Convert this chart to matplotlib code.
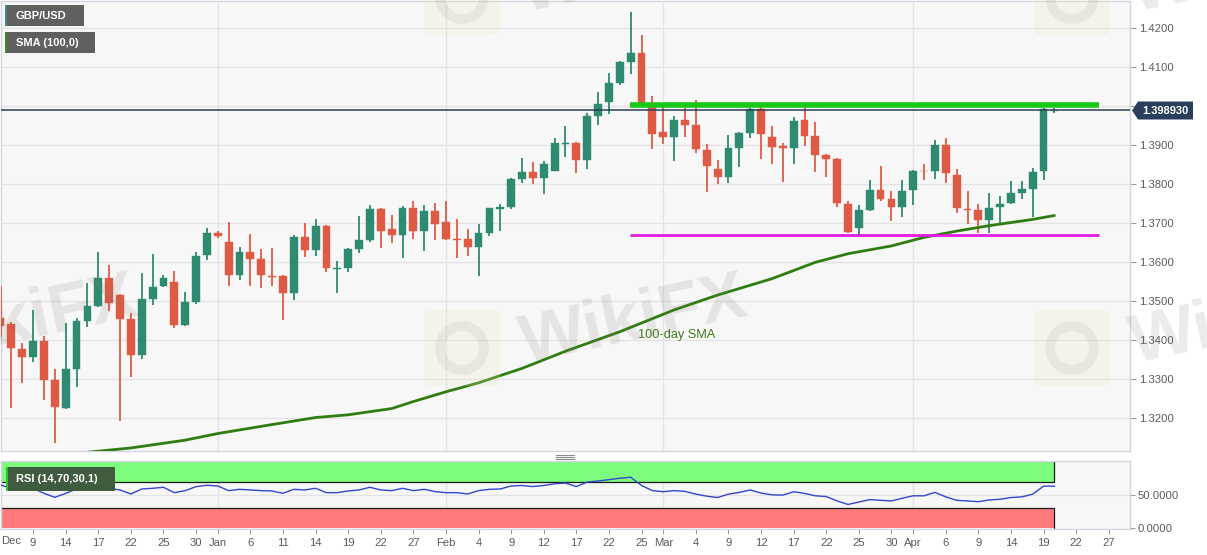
import numpy as np
import pandas as pd
import matplotlib
matplotlib.use('Agg')
import matplotlib.pyplot as plt
from matplotlib.patches import Rectangle, FancyBboxPatch, Polygon, Circle

plt.rcParams['font.family'] = ['Liberation Sans', 'DejaVu Sans']

# ---------------- data ----------------
start_date = '2020-12-04'
dates = pd.bdate_range(start_date, '2021-04-20')

opens = [1.3456, 1.3442, 1.3378, 1.3358, 1.3397, 1.3298, 1.3226, 1.3327, 1.3450, 1.3488,
         1.3561, 1.3516, 1.3454, 1.3362, 1.3506, 1.3538, 1.3549, 1.3439, 1.3497, 1.3619,
         1.3676, 1.3652, 1.3568, 1.3626, 1.3609, 1.3565, 1.3565, 1.3521, 1.3666, 1.3632,
         1.3693, 1.3583, 1.3585, 1.3634, 1.3657, 1.3737, 1.3685, 1.3670, 1.3738, 1.3681,
         1.3732, 1.3704, 1.3660, 1.3659, 1.3638, 1.3676, 1.3736, 1.3741, 1.3814, 1.3832,
         1.3815, 1.3834, 1.3904, 1.3907, 1.3862, 1.3975, 1.4012, 1.4061, 1.4113, 1.4136,
         1.4001, 1.3934, 1.3922, 1.3965, 1.3951, 1.3888, 1.3839, 1.3818, 1.3892, 1.3931,
         1.3992, 1.3922, 1.3899, 1.3892, 1.3966, 1.3923, 1.3875, 1.3864, 1.3750, 1.3688,
         1.3735, 1.3786, 1.3763, 1.3742, 1.3785, 1.3835, 1.3834, 1.3900, 1.3823, 1.3737,
         1.3733, 1.3709, 1.3742, 1.3752, 1.3778, 1.3789, 1.3834, 1.3988]
highs = [1.3538, 1.3447, 1.3392, 1.3478, 1.3411, 1.3326, 1.3445, 1.3456, 1.3548, 1.3627,
         1.3593, 1.3520, 1.3469, 1.3572, 1.3621, 1.3568, 1.3578, 1.3524, 1.3627, 1.3687,
         1.3679, 1.3704, 1.3640, 1.3673, 1.3633, 1.3636, 1.3567, 1.3670, 1.3700, 1.3710,
         1.3696, 1.3604, 1.3636, 1.3719, 1.3747, 1.3740, 1.3721, 1.3744, 1.3758, 1.3747,
         1.3751, 1.3756, 1.3710, 1.3685, 1.3698, 1.3740, 1.3749, 1.3816, 1.3867, 1.3858,
         1.3861, 1.3918, 1.3950, 1.3909, 1.3982, 1.4036, 1.4085, 1.4115, 1.4241, 1.4183,
         1.4026, 1.3999, 1.3976, 1.3999, 1.4016, 1.3903, 1.3862, 1.3926, 1.3935, 1.3995,
         1.3999, 1.3950, 1.3905, 1.3972, 1.3999, 1.3959, 1.3878, 1.3868, 1.3758, 1.3748,
         1.3812, 1.3848, 1.3782, 1.3812, 1.3836, 1.3852, 1.3913, 1.3919, 1.3838, 1.3782,
         1.3750, 1.3778, 1.3769, 1.3808, 1.3808, 1.3842, 1.3996, 1.3996]
lows = [1.3409, 1.3226, 1.3290, 1.3345, 1.3247, 1.3136, 1.3224, 1.3280, 1.3435, 1.3486,
        1.3474, 1.3192, 1.3305, 1.3351, 1.3491, 1.3536, 1.3431, 1.3437, 1.3493, 1.3606,
        1.3662, 1.3540, 1.3555, 1.3538, 1.3533, 1.3538, 1.3452, 1.3503, 1.3613, 1.3615,
        1.3574, 1.3521, 1.3574, 1.3623, 1.3653, 1.3636, 1.3649, 1.3610, 1.3659, 1.3630,
        1.3657, 1.3657, 1.3610, 1.3617, 1.3566, 1.3668, 1.3679, 1.3736, 1.3803, 1.3801,
        1.3775, 1.3834, 1.3869, 1.3828, 1.3838, 1.3952, 1.3979, 1.4055, 1.4083, 1.4008,
        1.3891, 1.3903, 1.3860, 1.3922, 1.3879, 1.3779, 1.3801, 1.3803, 1.3845, 1.3918,
        1.3864, 1.3851, 1.3807, 1.3852, 1.3898, 1.3831, 1.3819, 1.3742, 1.3675, 1.3671,
        1.3731, 1.3757, 1.3705, 1.3716, 1.3748, 1.3812, 1.3814, 1.3804, 1.3727, 1.3697,
        1.3675, 1.3675, 1.3697, 1.3750, 1.3763, 1.3716, 1.3812, 1.3982]
closes = [1.3437, 1.3380, 1.3358, 1.3397, 1.3298, 1.3228, 1.3326, 1.3450, 1.3488, 1.3561,
          1.3495, 1.3454, 1.3362, 1.3506, 1.3536, 1.3559, 1.3439, 1.3497, 1.3617, 1.3675,
          1.3668, 1.3568, 1.3626, 1.3609, 1.3567, 1.3562, 1.3521, 1.3666, 1.3632, 1.3693,
          1.3585, 1.3585, 1.3634, 1.3657, 1.3737, 1.3680, 1.3670, 1.3738, 1.3681, 1.3732,
          1.3698, 1.3660, 1.3658, 1.3638, 1.3676, 1.3738, 1.3741, 1.3814, 1.3832, 1.3815,
          1.3851, 1.3905, 1.3907, 1.3862, 1.3975, 1.4005, 1.4059, 1.4113, 1.4136, 1.4009,
          1.3929, 1.3922, 1.3965, 1.3952, 1.3890, 1.3848, 1.3818, 1.3892, 1.3931, 1.3992,
          1.3929, 1.3895, 1.3892, 1.3963, 1.3925, 1.3875, 1.3865, 1.3752, 1.3677, 1.3735,
          1.3786, 1.3763, 1.3742, 1.3782, 1.3834, 1.3833, 1.3900, 1.3828, 1.3739, 1.3733,
          1.3709, 1.3739, 1.3750, 1.3778, 1.3788, 1.3832, 1.3992, 1.3989]

rsi = [65, 60, 57.5, 60, 52.5, 46.5, 52.5, 59, 61.5, 65,
       60, 57.5, 51.5, 59, 60, 61.5, 53.5, 56.5, 62.5, 64.5,
       63.5, 56.5, 58.5, 57.5, 56.5, 56, 52.5, 58.5, 57.5, 60,
       53.5, 53.5, 56, 57.5, 61.5, 57.5, 56.5, 60, 56.5, 58.5,
       55, 53.5, 53.5, 51.5, 56.5, 58.5, 59, 63.5,
       64.2, 62.6, 64.2, 66.8, 67.8, 62.6, 69.3, 70.9, 72.9, 75,
       76.5, 64.2, 56.5, 54.9, 56.5, 55.4, 51.3, 48.3, 46.2, 51.3,
       53.9, 57.5, 52.9, 50.3, 49.8, 54.9, 52.4, 48.8, 47.7, 41.1,
       35.9, 39.5, 43.1, 42.1, 41.1, 45.2, 48.8, 48.8, 53.9, 47.2,
       42.1, 41.1, 40.0, 42.6, 43.6, 46.2, 47.2, 51.3, 63.2, 63.2]

sma_dates = ['2020-12-16', '2020-12-22', '2020-12-29', '2021-01-01', '2021-01-08',
             '2021-01-14', '2021-01-19', '2021-01-25', '2021-01-27', '2021-02-01',
             '2021-02-04', '2021-02-10', '2021-02-16', '2021-02-23', '2021-03-02',
             '2021-03-08', '2021-03-15', '2021-03-19', '2021-03-24', '2021-03-30',
             '2021-04-02', '2021-04-07', '2021-04-12', '2021-04-16', '2021-04-20']
sma_values = [1.3113, 1.3124, 1.3144, 1.3161, 1.3184,
              1.3202, 1.3209, 1.3225, 1.3243, 1.3268,
              1.3291, 1.3328, 1.3372, 1.3422, 1.3478,
              1.3516, 1.3558, 1.3600, 1.3622, 1.3642,
              1.3664, 1.3680, 1.3694, 1.3710, 1.3720]

tick_dates = ['2020-12-09', '2020-12-14', '2020-12-17', '2020-12-22', '2020-12-25',
              '2020-12-30', '2021-01-01', '2021-01-06', '2021-01-11', '2021-01-14',
              '2021-01-19', '2021-01-22', '2021-01-27', '2021-02-01', '2021-02-04',
              '2021-02-09', '2021-02-12', '2021-02-17', '2021-02-22', '2021-02-25',
              '2021-03-01', '2021-03-04', '2021-03-09', '2021-03-12', '2021-03-17',
              '2021-03-22', '2021-03-25', '2021-03-30', '2021-04-01', '2021-04-06',
              '2021-04-09', '2021-04-14', '2021-04-19', '2021-04-22', '2021-04-27']
tick_labels = ['9', '14', '17', '22', '25', '30', 'Jan', '6', '11', '14', '19', '22', '27',
               'Feb', '4', '9', '12', '17', '22', '25', 'Mar', '4', '9', '12', '17', '22',
               '25', '30', 'Apr', '6', '9', '14', '19', '22', '27']
month_dates = ['2021-01-01', '2021-02-01', '2021-03-01', '2021-04-01']

price_ticks = [1.32, 1.33, 1.34, 1.35, 1.36, 1.37, 1.38, 1.39, 1.40, 1.41, 1.42]
rsi_ticks = [0, 50]
last_price = 1.398930
resistance_level = 1.4003
support_level = 1.3670
levels_start = '2021-02-24'
levels_end = '2021-04-26'


def xpos(d):
    return int(np.busday_count(start_date, pd.Timestamp(d).strftime('%Y-%m-%d')))


x = np.array([xpos(d) for d in dates])
O = np.array(opens); H = np.array(highs); L = np.array(lows); C = np.array(closes)

UP = '#2f8a72'
DOWN = '#df5a44'
BG = '#f7f7f7'
GRID = '#e3e3e6'
SPINE = '#d3d6e0'
TXT = '#5a5a5a'

W, Hpx = 1207, 555
fig = plt.figure(figsize=(W / 100, Hpx / 100), dpi=100)
fig.patch.set_facecolor('white')

XMAX = 1130 / 10.87
ax = fig.add_axes([0.5 / W, 1 - 451 / Hpx, 1129.5 / W, 450 / Hpx])
ax.set_facecolor(BG)
ax.set_xlim(0, XMAX)
ax.set_ylim(1.31162, 1.4270)

for p in price_ticks:
    ax.axhline(p, color=GRID, lw=1, zorder=0)
for d in month_dates:
    ax.axvline(xpos(d), color=GRID, lw=1, zorder=0)

# candles
colors = np.where(C >= O, UP, DOWN)
ax.vlines(x, L, H, colors=colors, lw=1.3, zorder=3)
body_bottom = np.minimum(O, C)
body_h = np.maximum(np.abs(C - O), 0.00012)
ax.bar(x, body_h, bottom=body_bottom, width=0.72, color=colors, edgecolor=colors,
       lw=0.3, zorder=4)

# SMA
sx = [xpos(d) for d in sma_dates]
ax.plot(sx, sma_values, color='#2f7d10', lw=2.0, zorder=5, solid_capstyle='round')
ax.text(xpos('2021-02-25') - 0.35, 1.3414, '100-day SMA', color='#3d7a1a', fontsize=9.2,
        ha='left', va='center', zorder=6)

# horizontal levels
ax.plot([xpos(levels_start) - 0.04, xpos(levels_end) + 0.1], [resistance_level] * 2,
        color='#17c817', lw=4, zorder=6, solid_capstyle='butt')
ax.plot([xpos(levels_start) - 0.04, xpos(levels_end) + 0.1], [support_level] * 2,
        color='#e31ae3', lw=2, zorder=6, solid_capstyle='butt')

# last price line
ax.axhline(last_price, color='#2b3f56', lw=1.1, zorder=7)

ax.yaxis.tick_right()
ax.set_yticks(price_ticks)
ax.set_yticklabels([f'{p:.4f}' for p in price_ticks])
ax.tick_params(axis='y', length=4.5, width=0.8, color='#9a9a9a', labelcolor=TXT,
               labelsize=8.1, pad=2)
ax.set_xticks([])
for s in ax.spines.values():
    s.set_color(SPINE)
    s.set_linewidth(1)

# ---------------- RSI panel ----------------
axr = fig.add_axes([0.5 / W, 1 - 529.3 / Hpx, 1129.5 / W, 68.6 / Hpx])
axr.set_facecolor(BG)
axr.set_xlim(0, XMAX)
axr.set_ylim(-1.2, 101.2)
axr.axhline(50, color=GRID, lw=1, zorder=0)
for d in month_dates:
    axr.axvline(xpos(d), color=GRID, lw=1, zorder=0)
xe = x[-1]
axr.add_patch(Rectangle((0, 70), xe, 30, facecolor='#7dfb7d', edgecolor='none', zorder=1))
axr.add_patch(Rectangle((0, 0), xe, 30, facecolor='#ff7b7b', edgecolor='none', zorder=1))
axr.plot([0, xe, xe], [70, 70, 100], color='#1a1a1a', lw=0.9, zorder=2)
axr.plot([0, xe, xe], [30, 30, 0], color='#1a1a1a', lw=0.9, zorder=2)
axr.plot(x, rsi, color='#3346cc', lw=1.0, zorder=3)

axr.yaxis.tick_right()
axr.set_yticks(rsi_ticks)
axr.set_yticklabels([f'{v:.4f}' for v in rsi_ticks])
axr.set_xticks([xpos(d) for d in tick_dates])
axr.set_xticklabels(tick_labels)
axr.tick_params(axis='both', length=3.5, width=0.8, color='#9a9a9a', labelcolor=TXT,
                labelsize=8.1)
axr.tick_params(axis='x', pad=3)
axr.tick_params(axis='y', pad=2)
for s in axr.spines.values():
    s.set_color(SPINE)
    s.set_linewidth(1)

# ---------------- overlay (labels, tags, watermark) ----------------
ov = fig.add_axes([0, 0, 1, 1], zorder=20)
ov.set_xlim(0, W)
ov.set_ylim(Hpx, 0)
ov.axis('off')
ov.patch.set_alpha(0)

# watermark tiles
for cx, cy in [(462, 348), (1072, 348), (462, -3), (1072, -3), (-148, 348)]:
    ov.add_patch(FancyBboxPatch((cx - 36, cy - 36), 72, 72,
                                boxstyle='round,pad=2,rounding_size=8',
                                facecolor='#f2e6b8', edgecolor='none', alpha=0.22))
    ov.add_patch(Circle((cx, cy), 22, fill=False, edgecolor='#8c8c8c', lw=7, alpha=0.12))
    ov.text(cx + 172, cy - 27, 'WikiFX', fontsize=50, fontweight='bold', color='#7a716b',
            alpha=0.14, rotation=12, ha='center', va='center', clip_on=True)

# legend boxes
def tag(x0, y0, w, h, txt, stripe, face='#606060'):
    ov.add_patch(Rectangle((x0, y0), w, h, facecolor=face, edgecolor='none'))
    ov.add_patch(Rectangle((x0, y0), 2, h, facecolor=stripe, edgecolor='none'))
    ov.text(x0 + 11, y0 + h / 2 + 0.5, txt, color='white', fontsize=8, fontweight='bold',
            ha='left', va='center')

tag(5, 5, 79, 21, 'GBP/USD', '#3d8a80')
tag(5, 32, 90, 21, 'SMA (100,0)', '#3a8a1a')
tag(5.5, 467, 109.5, 24, 'RSI (14,70,30,1)', '#22cc22', face='#3f5c3f')

# price tag
ty = 110.5
ov.add_patch(Polygon([(1132, ty), (1138, ty - 9), (1193, ty - 9), (1193, ty + 9),
                      (1138, ty + 9)], closed=True, facecolor='#2b3f5c', edgecolor='none'))
ov.text(1165.5, ty + 0.5, f'{last_price:.6f}', color='white', fontsize=8, fontweight='bold',
        ha='center', va='center')

# "Dec" label at left edge
ov.text(1, 541.5, 'Dec', color=TXT, fontsize=8.1, ha='left', va='center')

# splitter handle
for yy in (455, 457, 459):
    ov.plot([556, 574], [yy, yy], color='#8a8a8a', lw=0.8)

fig.savefig('out.png', dpi=100, facecolor='white')
